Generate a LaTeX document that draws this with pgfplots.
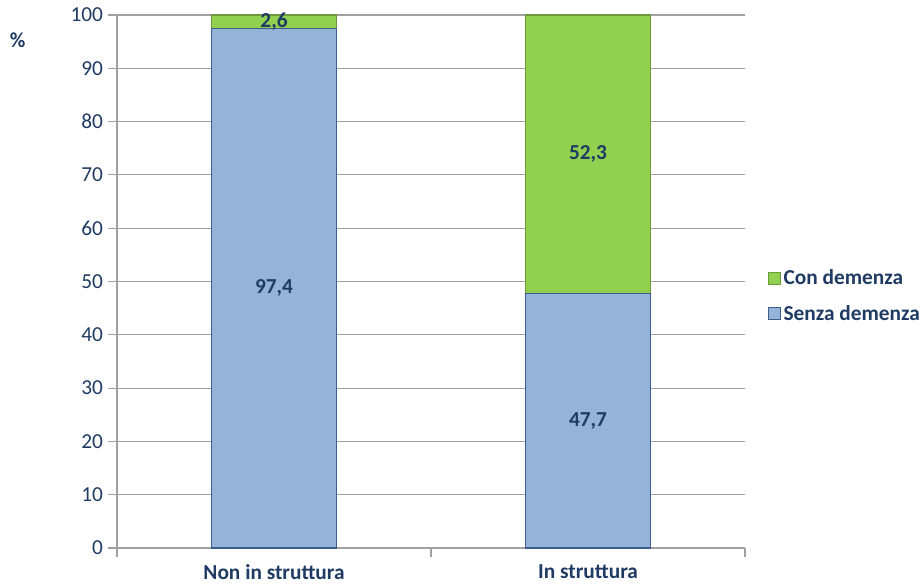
\documentclass[border=0pt]{standalone}
\usepackage{pgfplots}
\pgfplotsset{compat=1.18}
\usepackage{fontspec}
\setmainfont{Carlito}
\definecolor{navy}{HTML}{1F3B63}
\definecolor{sblue}{HTML}{95B3D7}
\definecolor{sblueb}{HTML}{3A5F8E}
\definecolor{sgreen}{HTML}{92D050}
\definecolor{sgreenb}{HTML}{6E9A3C}
\definecolor{gridc}{HTML}{A0A0A0}
\begin{document}
\begin{tikzpicture}[x=0.75pt,y=0.75pt]
\path[use as bounding box] (-117,-39) rectangle (807,548);
\begin{axis}[
  at={(0,0)}, anchor=south west,
  scale only axis,
  width=471pt, height=399.75pt,
  ybar stacked,
  bar width=0.4,
  xmin=-0.5, xmax=1.5,
  ymin=0, ymax=100,
  ytick={0,10,...,100},
  xtick={-0.5,0.5,1.5},
  xticklabels={},
  extra x ticks={0,1},
  extra x tick labels={Non in struttura, In struttura},
  extra x tick style={major tick length=0pt, grid=none, xticklabel style={yshift=-11pt, inner sep=1pt}},
  axis lines*=left,
  axis line style={gridc, line width=0.8pt},
  tick style={gridc, line width=0.8pt},
  tick align=outside,
  major tick length=7pt,
  ymajorgrids,
  grid style={gridc, line width=0.8pt},
  /pgf/number format/assume math mode=true,
  font=\fontsize{16}{19}\selectfont,
  yticklabel style={text=navy},
  xticklabel style={text=navy, font=\fontsize{16}{19}\selectfont\bfseries},
  ylabel={\%},
  ylabel style={rotate=-90, at={(rel axis cs:-0.158,0.953)}, anchor=center, text=navy, font=\fontsize{16}{19}\selectfont\bfseries},
  point meta=explicit,
  nodes near coords={\pgfmathprintnumber[use comma,fixed,fixed zerofill,precision=1]{\pgfplotspointmeta}},
  every node near coord/.append style={font=\fontsize{16}{19}\selectfont\bfseries, text=navy, anchor=center},
  legend style={draw=none, fill=none, at={(rel axis cs:1.03,0.473)}, anchor=west, row sep=10pt, font=\fontsize{16}{19}\selectfont\bfseries, text=navy, cells={anchor=west}, /tikz/every even column/.append style={column sep=2pt}},
  legend image code/.code={\draw[#1, line width=0.6pt] (0pt,-4.5pt) rectangle (9pt,4.5pt);},
  reverse legend,
]
\addplot[fill=sblue, draw=sblueb, line width=0.8pt] coordinates {(0,97.4) [97.4] (1,47.7) [47.7]};
\addplot[fill=sgreen, draw=sgreenb, line width=0.8pt] coordinates {(0,2.6) [2.6] (1,52.3) [52.3]};
\legend{Senza demenza, Con demenza}
\end{axis}
\end{tikzpicture}
\end{document}
